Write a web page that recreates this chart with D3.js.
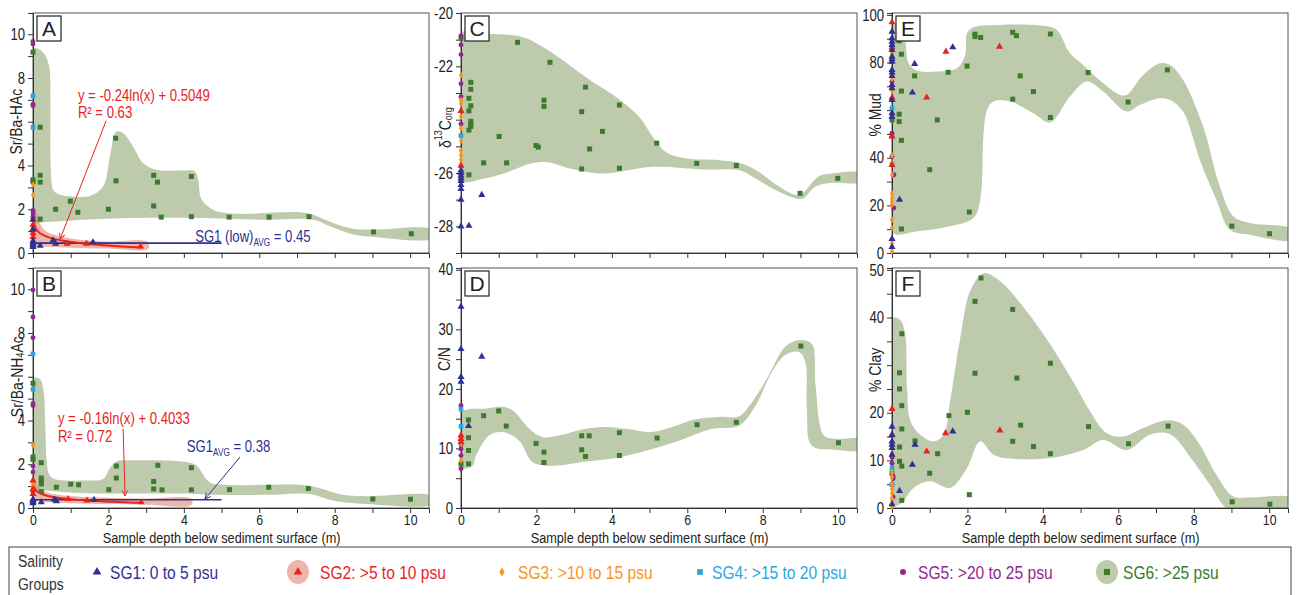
<!DOCTYPE html>
<html><head><meta charset="utf-8">
<script src="https://cdn.jsdelivr.net/npm/d3@7"></script>
<style>
body{margin:0;background:#fff}
svg{display:block}
text{font-family:"Liberation Sans",Arial,sans-serif;fill:#222}
</style>
</head><body>
<svg id="c" width="1298" height="595"></svg>
<script>
// ---------------- DATA ----------------
const depthTicks = [0,1,2,3,4,5,6,7,8,9,10];
const depthLabels = [0,2,4,6,8,10];
const xTitle = "Sample depth below sediment surface (m)";
const groupNames = ["SG1: 0 to 5 psu","SG2: >5 to 10 psu","SG3: >10 to 15 psu","SG4: >15 to 20 psu","SG5: >20 to 25 psu","SG6: >25 psu"];

// Panel A  Sr/Ba-HAc
const aTicks = [0,1,2,3,4,5,6,7,8,9,10];
const aLabels = [0,2,4,8,10];
const aSG1 = [[0,1.52],[0,1.07],[0,0.55],[0,0.48],[0,0.4],[0,0.34],[0,0.28],[0.19,0.33],[0.53,0.58],[0.6,0.43],[1.59,0.49]];
const aSG2 = [[0,1.29],[0,1.1],[0,0.91],[0,0.73],[0.91,0.43],[1.42,0.43],[2.85,0.3]];
const aSG3 = [[0,3.12],[0,2.65],[0,1.15]];
const aSG4 = [[0,7.18],[0,5.75]];
const aSG5 = [[0,9.67],[0,9.55],[0,6.8],[0,6.73],[0,1.95],[0,1.83],[0,1.67],[0,1.6]];
const aSG6 = [[0,9.18],[0,3.35],[0,3.27],[0.19,5.75],[0.19,3.55],[0.19,3.24],[0.19,1.55],[0.6,2.0],[0.99,2.37],[1.19,1.86],[2.0,2.0],[2.19,5.25],[2.2,3.3],[3.2,3.55],[3.2,2.15],[3.3,3.24],[3.4,1.64],[4.2,3.5],[4.2,1.66],[5.2,1.64],[6.26,1.64],[7.32,1.66],[9.03,0.96],[10.03,0.88]];
const aEnv = [[0,9.36],[0.25,9.2],[0.42,8.6],[0.46,7],[0.47,4],[0.55,2.85],[0.75,2.65],[0.97,2.59],[1.5,2.6],[1.86,3.04],[2.04,4.41],[2.21,5.55],[2.39,5.48],[2.65,4.87],[2.92,4.11],[3.27,3.8],[3.9,3.77],[4.29,3.73],[4.38,3.35],[4.47,2.44],[4.78,1.98],[5.31,1.8],[7.08,1.86],[7.43,1.75],[7.96,1.37],[8.5,1.1],[9.03,1.07],[10.6,1.07],[10.6,0.67],[9.03,0.73],[8.5,0.84],[7.88,1.22],[7.43,1.52],[6.19,1.52],[4.42,1.6],[2.65,1.6],[1.33,1.52],[0.27,1.4],[0,1.37]];
const aPink = [[0,2.2],[0.09,1.83],[0.18,1.37],[0.35,0.99],[0.71,0.76],[1.24,0.61],[1.95,0.53],[3.05,0.5],[3.05,0.18],[2.0,0.2],[1.0,0.24],[0.4,0.28],[0.1,0.3],[0,0.3]];
const aFit = [-0.24, 0.5049, 0.027, 2.85];   // slope, intercept, x-start, x-end
const aAvg = [0.45, 0, 5];                   // value, x-start, x-end

// Panel B  Sr/Ba-NH4Ac
const bTicks = aTicks;
const bLabels = [0,2,4,8,10];
const bSG1 = [[0,0.4],[0,0.34],[0,0.28],[0,0.22],[0.22,0.26],[0.57,0.38],[0.62,0.31],[1.62,0.37]];
const bSG2 = [[0,1.26],[0,0.87],[0,0.64],[0.93,0.41],[1.43,0.34],[2.87,0.26]];
const bSG3 = [[0,2.87],[0,1.13],[0,1.0]];
const bSG4 = [[0,7.04],[0,5.43]];
const bSG5 = [[0,9.97],[0,8.73],[0,7.78],[0,4.78],[0,4.68],[0,1.92],[0,1.64],[0,0.75]];
const bSG6 = [[0,5.7],[0,2.33],[0,2.22],[0.22,2.07],[0.22,1.37],[0.22,1.24],[0.22,1.1],[0.22,0.75],[0.62,0.95],[1.0,1.09],[1.21,1.06],[2.01,0.84],[2.21,1.92],[2.21,1.37],[3.2,1.21],[3.2,0.87],[3.31,1.95],[3.42,0.83],[4.2,1.84],[4.2,0.83],[5.21,0.84],[6.25,0.95],[7.3,0.89],[9.01,0.41],[10.01,0.4]];
const bEnv = [[0,5.94],[0.18,5.9],[0.27,5.48],[0.33,3.5],[0.36,2.2],[0.44,1.49],[0.62,1.3],[1.33,1.26],[1.86,1.33],[2.03,1.79],[2.21,2.13],[2.65,2.18],[4.06,2.1],[4.33,1.95],[4.68,1.18],[5.12,1.06],[7.07,1.06],[7.51,0.95],[8.22,0.6],[8.83,0.54],[10.6,0.54],[10.6,0.18],[8.83,0.18],[7.95,0.34],[7.33,0.64],[6.18,0.6],[4.77,0.6],[3.98,0.66],[2.65,0.66],[1.77,0.66],[0.88,0.72],[0.27,0.8],[0,0.8]];
const bPink = [[0,1.6],[0.05,1.25],[0.15,0.95],[0.4,0.7],[1,0.55],[2,0.47],[3,0.43],[4.2,0.42],[4.2,0.14],[3,0.15],[2,0.18],[1,0.22],[0.4,0.26],[0.1,0.3],[0,0.32]];
const bFit = [-0.16, 0.4033, 0.01, 2.85];
const bAvg = [0.38, 0, 5];

// Panel C  d13Corg
const cTicks = [-29,-28,-27,-26,-25,-24,-23,-22,-21,-20];
const cLabels = [-28,-26,-22,-20];
const cSG1 = [[0,-25.9],[0,-26.0],[0,-26.1],[0,-26.2],[0,-26.3],[0,-26.45],[0,-26.6],[0,-27.0],[0,-28.0],[0.55,-26.82],[0.21,-27.98]];
const cSG2 = [[0,-23.67],[0,-25.73]];
const cSG3 = [[0,-22.33],[0,-23.27],[0,-23.4],[0,-23.9],[0,-24.32],[0,-24.78],[0,-25.15],[0,-25.34],[0,-25.5],[0,-25.67]];
const cSG4 = [[0,-24.6]];
const cSG5 = [[0,-20.86],[0,-21.2],[0,-21.56],[0,-22.65],[0,-23.14],[0,-24.16]];
const cSG6 = [[0,-20.95],[1.5,-21.1],[2.36,-21.85],[0.26,-22.6],[0.26,-22.86],[0.21,-23.2],[0.26,-23.48],[0.21,-23.67],[0.26,-24.06],[0.26,-24.16],[0.26,-24.25],[0.21,-24.39],[1.01,-24.63],[1.99,-24.97],[2.05,-25.03],[2.2,-23.27],[2.2,-23.5],[3.3,-22.78],[3.2,-23.7],[3.41,-25.1],[3.75,-24.44],[4.2,-23.45],[5.19,-24.88],[0.6,-25.62],[1.21,-25.62],[3.2,-25.85],[4.2,-25.82],[6.25,-25.64],[7.3,-25.72],[8.99,-26.76],[9.99,-26.2],[0.21,-26.07]];
const cEnv = [[0,-20.75],[0.69,-20.78],[1.57,-20.88],[2.0,-21.13],[2.62,-21.69],[3.33,-22.43],[4.2,-23.24],[4.74,-23.92],[5.09,-24.66],[5.44,-25.22],[5.97,-25.46],[6.85,-25.52],[7.46,-25.65],[7.9,-25.96],[8.43,-26.51],[8.87,-26.82],[9.05,-26.76],[9.49,-26.12],[9.84,-26.02],[10.6,-26.0],[10.6,-26.33],[9.84,-26.37],[9.4,-26.51],[9.05,-26.97],[8.78,-26.91],[8.26,-26.58],[7.73,-26.14],[7.38,-25.9],[6.41,-25.87],[5.09,-25.77],[3.77,-26.02],[2.89,-25.83],[2.27,-25.59],[1.83,-25.65],[1.13,-26.02],[0.51,-26.24],[0,-26.27]];

// Panel D  C/N
const dTicks = [0,5,10,15,20,25,30,35,40];
const dLabels = [0,10,20,30,40];
const dSG1 = [[0,33.8],[0,26.7],[0,22.0],[0,21.2],[0.55,25.4],[0.2,13.76]];
const dSG2 = [[0,12.2],[0,11.6],[0,11.1]];
const dSG3 = [[0,8.0],[0,10.8]];
const dSG4 = [[0,16.6],[0,13.7]];
const dSG5 = [[0,17.2],[0,10.6],[0,9.9],[0,8.8],[0,6.6]];
const dSG6 = [[0,7.4],[0.2,14.8],[0.2,11.8],[0.2,9.66],[0.2,7.4],[0.6,15.5],[1.0,16.3],[1.2,13.76],[1.99,10.84],[2.2,9.38],[2.2,7.64],[3.2,12.13],[3.2,9.78],[3.3,8.65],[3.4,12.13],[4.2,12.64],[4.2,8.82],[5.2,11.74],[6.26,13.99],[7.3,14.38],[9.01,27.2],[10.01,10.96]];
const dEnv = [[0,16.0],[0.66,16.7],[1.1,17.0],[1.37,16.4],[1.81,13.3],[2.16,11.9],[2.6,12.2],[3.31,13.3],[3.84,13.6],[4.37,13.3],[5.07,12.75],[5.6,13.6],[6.22,14.9],[6.84,15.3],[7.37,15.4],[7.72,17.8],[8.16,22.3],[8.6,27.1],[8.96,28.2],[9.3,27.6],[9.4,20.6],[9.62,12.2],[9.93,11.6],[10.6,11.6],[10.6,9.8],[9.93,9.8],[9.3,10.5],[9.17,16.7],[9.13,24.5],[8.96,26.2],[8.6,25.7],[8.25,22.9],[7.81,17.2],[7.37,13.8],[6.66,13.3],[5.78,11.3],[5.07,9.9],[4.19,8.5],[3.31,7.8],[2.43,7.1],[1.9,7.7],[1.54,11.3],[1.1,12.75],[0.75,12.2],[0.4,8.8],[0.31,7.1],[0.09,6.6],[0,6.6]];

// Panel E  % Mud
const eTicks = [0,10,20,30,40,50,60,70,80,90,100];
const eLabels = [0,20,40,80,100];
const eSG1 = [[0,93.0],[0,90.2],[0,88.8],[0,87.4],[0,85.3],[0,82.5],[0,81.4],[0,80.4],[0,76.9],[0,75.8],[0,74.4],[0,70.6],[0,69.2],[0,64.3],[0,58.7],[0,57.3],[0,5.9],[0,2.5],[0.6,79.4],[0.54,67.4],[1.61,86.4],[0.2,22.4]];
const eSG2 = [[0,96.9],[0,86.3],[0,65.3],[0,49],[0,37],[1.43,84.6],[2.85,86.7],[0.92,65.3]];
const eSG3 = [[0,84],[0,83],[0,73],[0,69],[0,68],[0,41],[0,37.8],[0,32.9],[0,25],[0,23],[0,21.5],[0,20.3],[0,14],[0,10.5],[0,4.2],[0,2.8],[0,0.7]];
const eSG4 = [[0,60.8],[0,37.1]];
const eSG5 = [[0,72],[0,50.3],[0,49],[0,40.6],[0.05,32.9],[0.05,18.9]];
const eSG6 = [[0,55.9],[0.19,93.4],[0.25,93.0],[0.19,89.1],[0.25,83.5],[0.6,74.4],[0.25,68.0],[0.19,58.3],[0.19,55.2],[0.25,47.3],[1.0,35.0],[0.25,10.1],[1.2,55.9],[1.49,75.9],[1.99,78.5],[2.05,17.2],[2.2,91.9],[2.2,90.9],[2.35,90.5],[3.2,92.7],[3.3,91.3],[3.2,64.6],[3.4,74.4],[3.75,67.8],[4.2,92.0],[4.2,56.9],[5.2,75.8],[6.26,63.4],[7.3,76.9],[9.01,11.3],[10.01,8.1]];
const eEnv = [[0,95.8],[0.26,95.1],[0.35,89.5],[0.44,79.7],[0.66,76.6],[1.19,76.2],[1.72,77.6],[1.94,83.2],[1.99,92.3],[2.16,94.8],[2.87,95.8],[4.02,95.4],[4.37,93.7],[4.72,83.9],[5.07,79.0],[5.25,76.2],[5.6,71.3],[6.05,66.4],[6.22,66.4],[6.66,74.8],[7.1,79.7],[7.37,79.0],[7.72,72.7],[8.25,53.1],[8.69,28.0],[9.05,15.4],[9.49,12.6],[10.6,10.0],[10.6,5.5],[9.49,7.7],[8.96,9.8],[8.6,22.4],[8.16,39.2],[7.72,59.4],[7.37,64.3],[7.1,65.0],[6.57,62.2],[6.22,59.4],[5.6,67.8],[5.16,72.0],[4.72,65.7],[4.19,54.8],[3.75,58.7],[3.13,63.6],[2.69,63.6],[2.52,60.1],[2.43,50.3],[2.34,22.4],[2.16,14.7],[1.54,11.2],[0.66,9.1],[0,8.7]];

// Panel F  % Clay
const fTicks = [0,5,10,15,20,25,30,35,40,45,50];
const fLabels = [0,10,20,40,50];
const fSG1 = [[0,17.1],[0,15.4],[0,14],[0,13.3],[0,12.6],[0,11.2],[0,0.8],[0.2,3.6],[0.54,9.1],[0.61,13.3],[1.61,16.1]];
const fSG2 = [[0,20.8],[0,15.3],[0.92,11.9],[1.42,15.7],[2.86,16.3]];
const fSG3 = [[0,11.5],[0,7.5],[0,6.5],[0,5.0],[0,4.0],[0,3.0],[0,2.0],[0,1.5],[0,0.3]];
const fSG4 = [[0,8.4],[0,4.9]];
const fSG5 = [[0,10.6],[0,9.4],[0.03,6.6],[0.03,6.2],[0,5.0],[0.03,2.3]];
const fSG6 = [[0,7.3],[0.26,36.6],[0.2,28.4],[0.2,25.0],[0.26,21.5],[0.26,16.6],[0.2,12.8],[0.2,9.8],[0.26,8.8],[0.26,1.6],[0.61,14.1],[1.0,7.3],[1.21,11.4],[1.51,19.4],[2.0,20.1],[2.05,2.8],[2.2,43.4],[2.2,28.3],[2.36,48.3],[3.2,41.7],[3.2,14.0],[3.31,27.3],[3.41,17.4],[3.75,12.9],[4.2,30.4],[4.2,11.4],[5.21,17.1],[6.27,13.5],[7.32,17.2],[9.02,1.3],[10.02,0.8]];
const fEnv = [[0,39.9],[0.22,39.5],[0.35,36.4],[0.4,25.2],[0.49,18.2],[0.75,15.4],[1.1,14.0],[1.37,15.4],[1.54,22.4],[1.81,35.7],[2.07,45.5],[2.43,49.3],[2.87,47.6],[3.57,41.3],[4.37,32.2],[4.9,25.2],[5.25,20.3],[5.69,15.7],[6.13,15.0],[6.66,16.8],[7.27,18.4],[7.72,17.5],[8.16,13.3],[8.6,7.0],[9.05,2.4],[9.49,2.2],[10.6,2.1],[10.6,-0.5],[8.96,-0.5],[8.43,4.9],[7.99,9.8],[7.37,15.5],[6.84,15.4],[6.22,12.2],[5.6,14.3],[5.07,12.2],[4.19,10.5],[3.31,10.3],[2.69,11.2],[2.34,14.0],[1.99,8.4],[1.54,4.2],[1.01,5.6],[0.57,4.2],[0.22,0.8],[0,0.7]];

// ---------------- STYLE / LAYOUT ----------------
const COL = {sg1:"#2e3192", sg2:"#e8231d", sg3:"#f7941d", sg4:"#29a8df", sg5:"#92278f", sg6:"#3b7b2c",
             band:"#bdcaac", pink:"#e08672", frame:"#555", axis:"#333"};
const SYM = [
  {type:d3.symbolTriangle, size:22, color:COL.sg1},
  {type:d3.symbolTriangle, size:22, color:COL.sg2},
  {type:d3.symbolDiamond,  size:15, color:COL.sg3},
  {type:d3.symbolSquare,   size:22, color:COL.sg4},
  {type:d3.symbolCircle,   size:19, color:COL.sg5},
  {type:d3.symbolSquare,   size:25, color:COL.sg6}
];
const NARROW = 0.82;   // emulate a condensed face
const W = 396, H = 240;
const xDomain = [0, 10.5];

const panels = [
  {id:"A", left:33,  top:13,  yd:[0,10.97], ticks:aTicks, labels:aLabels, groups:[aSG1,aSG2,aSG3,aSG4,aSG5,aSG6], env:aEnv, pink:aPink, fit:aFit, avg:aAvg, titleAt:6, bottom:false},
  {id:"B", left:33,  top:268, yd:[0,10.97], ticks:bTicks, labels:bLabels, groups:[bSG1,bSG2,bSG3,bSG4,bSG5,bSG6], env:bEnv, pink:bPink, fit:bFit, avg:bAvg, titleAt:6, bottom:true},
  {id:"C", left:461, top:13,  yd:[-29,-20], ticks:cTicks, labels:cLabels, groups:[cSG1,cSG2,cSG3,cSG4,cSG5,cSG6], env:cEnv, titleAt:-24.3, bottom:false},
  {id:"D", left:461, top:268, yd:[0,40.3], ticks:dTicks, labels:dLabels, groups:[dSG1,dSG2,dSG3,dSG4,dSG5,dSG6], env:dEnv, titleAt:25, bottom:true},
  {id:"E", left:892, top:13,  yd:[0,100.8], ticks:eTicks, labels:eLabels, groups:[eSG1,eSG2,eSG3,eSG4,eSG5,eSG6], env:eEnv, titleAt:58, bottom:false},
  {id:"F", left:892, top:268, yd:[0,50.4], ticks:fTicks, labels:fLabels, groups:[fSG1,fSG2,fSG3,fSG4,fSG5,fSG6], env:fEnv, titleAt:29, bottom:true}
];

const svg = d3.select("#c");
const defs = svg.append("defs");
function marker(id, color){
  defs.append("marker").attr("id",id).attr("viewBox","0 0 10 10").attr("refX",9).attr("refY",5)
    .attr("markerWidth",7).attr("markerHeight",7).attr("orient","auto-start-reverse")
    .append("path").attr("d","M1,1 L9,5 L1,9").attr("fill","none").attr("stroke",color).attr("stroke-width",1.3);
}
marker("arrRed", COL.sg2); marker("arrBlue", COL.sg1);

// condensed text helper
function ntext(parent, x, y, size, opts){
  opts = opts || {};
  const g = parent.append("g").attr("transform",`translate(${x},${y})${opts.rotate?" rotate(-90)":""} scale(${NARROW},1)`);
  const t = g.append("text").attr("font-size",size).attr("text-anchor",opts.anchor||"start");
  if (opts.baseline) t.attr("dominant-baseline",opts.baseline);
  if (opts.color) t.style("fill",opts.color);
  return t;
}

panels.forEach(p => {
  const x = d3.scaleLinear().domain(xDomain).range([p.left, p.left + W]);
  const y = d3.scaleLinear().domain(p.yd).range([p.top + H, p.top]);
  const g = svg.append("g");
  defs.append("clipPath").attr("id","clip"+p.id).append("rect")
    .attr("x",p.left).attr("y",p.top).attr("width",W).attr("height",H);
  const body = g.append("g").attr("clip-path",`url(#clip${p.id})`);
  const closed = d3.line().x(d=>x(d[0])).y(d=>y(d[1])).curve(d3.curveCatmullRomClosed.alpha(0.5));
  body.append("path").attr("d", closed(p.env)).attr("fill", COL.band);
  if (p.pink) body.append("path").attr("d", closed(p.pink)).attr("fill", COL.pink).attr("fill-opacity",0.6);
  if (p.avg) {
    body.append("line").attr("x1",x(p.avg[1])).attr("x2",x(p.avg[2]))
      .attr("y1",y(p.avg[0])).attr("y2",y(p.avg[0])).attr("stroke",COL.sg1).attr("stroke-width",1.6);
  }
  if (p.fit) {
    const [a,b,x0,x1] = p.fit;
    const pts = d3.range(0,1.0001,0.01).map(t => { const xx = x0*Math.pow(x1/x0,t); return [xx, a*Math.log(xx)+b]; });
    body.append("path").attr("d", d3.line().x(d=>x(d[0])).y(d=>y(d[1]))(pts))
      .attr("fill","none").attr("stroke",COL.sg2).attr("stroke-width",2);
  }
  // frame
  g.append("rect").attr("x",p.left).attr("y",p.top).attr("width",W).attr("height",H)
    .attr("fill","none").attr("stroke",COL.frame).attr("stroke-width",1);
  // y axis
  const ya = g.append("g").attr("transform",`translate(${p.left},0)`)
    .call(d3.axisLeft(y).tickValues(p.ticks).tickSize(5).tickPadding(3)
      .tickFormat(d => p.labels.includes(d) ? String(d) : ""));
  ya.select(".domain").attr("stroke",COL.axis);
  ya.selectAll(".tick line").attr("stroke",COL.axis);
  ya.selectAll("text").attr("font-size",16).attr("fill","#222")
    .attr("transform",`scale(${NARROW},1)`).attr("x",-8/NARROW);
  // x axis
  const xa = g.append("g").attr("transform",`translate(0,${p.top+H})`)
    .call(d3.axisBottom(x).tickValues(depthTicks).tickSize(5).tickPadding(1)
      .tickFormat(d => p.bottom && depthLabels.includes(d) ? String(d) : ""));
  xa.select(".domain").attr("stroke",COL.axis);
  xa.selectAll(".tick line").attr("stroke",COL.axis);
  xa.selectAll("text").attr("font-size",15).attr("fill","#222").attr("transform",`scale(${NARROW},1)`);
  if (p.bottom) {
    ntext(g, (x(0)+x(10))/2, p.top+H+35, 15.5, {anchor:"middle"}).text(xTitle);
  }
  // points (SG6 first, SG1 last)
  for (let i = 5; i >= 0; i--) {
    const s = SYM[i];
    const sym = d3.symbol().type(s.type).size(s.size);
    g.append("g").selectAll("path").data(p.groups[i]).join("path")
      .attr("transform", d => `translate(${x(d[0])},${y(d[1])})`)
      .attr("d", sym).attr("fill", s.color);
  }
  // panel letter
  g.append("rect").attr("x",p.left+4).attr("y",p.top+3).attr("width",24).attr("height",25)
    .attr("fill","#fff").attr("stroke","#222").attr("stroke-width",1.2);
  g.append("text").attr("x",p.left+16).attr("y",p.top+23).attr("text-anchor","middle")
    .attr("font-size",21).text(p.id);
  p.g = g; p.x = x; p.y = y;
});

// ---------------- Y TITLES ----------------
const P = Object.fromEntries(panels.map(p=>[p.id,p]));
function yTitle(p){ return ntext(p.g, p.left-17, p.y(p.titleAt), 17, {rotate:true, anchor:"middle", baseline:"central"}); }
yTitle(P.A).text("Sr/Ba-HAc");
{ const t = yTitle(P.B); t.append("tspan").text("Sr/Ba-NH"); t.append("tspan").attr("font-size",11).attr("dy",4).text("4"); t.append("tspan").attr("dy",-4).text("Ac"); }
{ const t = yTitle(P.C); t.append("tspan").text("δ"); t.append("tspan").attr("font-size",11).attr("dy",-6).text("13"); t.append("tspan").attr("dy",6).text("C"); t.append("tspan").attr("font-size",11).attr("dy",4).text("org"); }
yTitle(P.D).text("C/N");
yTitle(P.E).text("% Mud");
yTitle(P.F).text("% Clay");

// ---------------- ANNOTATIONS ----------------
function ann(p, xv, yv, color){ return ntext(p.g, p.x(xv), p.y(yv), 16, {color}); }
function arrow(p, a, b, color, mk){
  p.g.append("line").attr("x1",p.x(a[0])).attr("y1",p.y(a[1])).attr("x2",p.x(b[0])).attr("y2",p.y(b[1]))
    .attr("stroke",color).attr("stroke-width",1).attr("marker-end",`url(#${mk})`);
}
function avgLabel(t, pre, post){
  t.append("tspan").text(pre); t.append("tspan").attr("font-size",10).attr("dy",4).text("AVG"); t.append("tspan").attr("dy",-4).text(post);
}
// A
ann(P.A, 1.19, 6.97, COL.sg2).text("y = -0.24ln(x) + 0.5049");
ann(P.A, 1.19, 6.15, COL.sg2).text("R² = 0.63");
arrow(P.A, [1.94,6.05], [0.72,0.64], COL.sg2, "arrRed");
avgLabel(ann(P.A, 4.3, 0.5, COL.sg1), "SG1 (low)", " = 0.45");
// B
ann(P.B, 0.66, 3.85, COL.sg2).text("y = -0.16ln(x) + 0.4033");
ann(P.B, 0.66, 3.0, COL.sg2).text("R² = 0.72");
arrow(P.B, [2.39,3.62], [2.44,0.55], COL.sg2, "arrRed");
avgLabel(ann(P.B, 4.08, 2.55, COL.sg1), "SG1", " = 0.38");
arrow(P.B, [5.49,2.33], [4.56,0.41], COL.sg1, "arrBlue");

// ---------------- LEGEND ----------------
const lg = svg.append("g");
lg.append("rect").attr("x",9).attr("y",547).attr("width",1282).attr("height",60)
  .attr("fill","#fff").attr("stroke","#444").attr("stroke-width",1);
ntext(lg, 18, 567, 17, {color:"#333"}).text("Salinity");
ntext(lg, 18, 590, 17, {color:"#333"}).text("Groups");
const legMarkX = [97, 298, 502, 700, 903, 1107];
const legTextX = [110, 320, 518, 712, 918, 1123];
const legCols = [COL.sg1,COL.sg2,COL.sg3,COL.sg4,COL.sg5,COL.sg6];
groupNames.forEach((name,i) => {
  const cy = 572;
  if (i === 1) lg.append("ellipse").attr("cx",legMarkX[i]).attr("cy",cy).attr("rx",11).attr("ry",12).attr("fill",COL.pink).attr("fill-opacity",0.6);
  if (i === 5) lg.append("ellipse").attr("cx",legMarkX[i]).attr("cy",cy).attr("rx",11).attr("ry",12).attr("fill",COL.band);
  const s = SYM[i];
  lg.append("path").attr("transform",`translate(${legMarkX[i]},${cy})`)
    .attr("d", d3.symbol().type(s.type).size(s.size*1.5)).attr("fill", s.color);
  ntext(lg, legTextX[i], cy+7, 19, {color:legCols[i]}).text(name);
});
</script>
</body></html>
